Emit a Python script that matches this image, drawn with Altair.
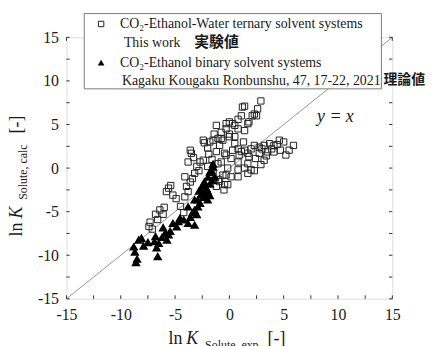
import altair as alt
import pandas as pd

# ---- data ----
sq_x = [-7.4, -7.1, -7.3, -6.8, -6.4, -6.1, -6.6, -6.0,
        -5.6, -5.2, -5.8, -5.4, -4.9, -4.2, -4.5,
        -4.1, -3.95, -4.1, -3.8, -3.6, -3.2, -2.8, -3.4,
        -3.8, -2.7, -3.5, -3.6, -3.3, -3.0,
        -2.4, -1.8, -2.3, -2.0, -1.4, -1.2, -1.05, -0.75, -0.75,
        -0.3, -0.3, 0.0, 0.3, 0.0, 0.5, 0.5, 0.8, 1.4, 0.8, 1.1, 1.4, 1.8, 2.1, 2.3, 2.6, 2.9, 1.7, -0.6, 1.2, 2.5,
        5.9, 5.5, 5.0, 4.6, 4.1, 3.7, 3.2, 2.75, 4.7, 5.2, 4.1, 3.5, 2.75, 2.0, 1.4, 0.8, 0.3, 0.9, 1.8, 2.4,
        3.2, 1.7, 0.8, 0.15, -0.45, -0.75, -0.15, 0.8, 1.4, 2.0, 2.3, -0.6, 0.15, -0.9, -0.15, -0.3, 0.8,
        -1.05, -1.2, -0.3, 1.1, -1.5, 0.0, -2.4, -1.5, -1.0, -2.0, -0.5, -1.2, -1.35, -0.44, 1.7, 2.3, 3.0,
        3.9, 4.4, -1.6, -0.9, 0.5, 1.3, 1.7, 3.4, 2.9, -1.9]
sq_y = [-6.7, -7.0, -6.2, -5.3, -4.8, -5.3, -5.9, -4.5,
        -2.3, -3.1, -2.7, -2.0, -3.5, -5.1, -4.4,
        -1.0, -2.1, -3.3, -2.7, -1.6, -0.6, -0.3, -1.2,
        0.7, 0.7, 1.7, 2.05, 1.2, 0.2,
        3.2, 3.0, 2.9, 2.3, 3.9, 4.9, 3.4, 4.1, 3.4,
        4.5, 5.1, 5.3, 5.1, 3.9, 3.6, 4.9, 4.5, 4.3, 5.6, 6.0, 7.1, 5.3, 6.0, 6.2, 6.8, 7.7, 5.1, 3.2, 7.0, 6.0,
        2.6, 2.05, 3.0, 3.2, 2.6, 2.8, 2.6, 2.4, 2.05, 1.5, 1.85, 1.85, 1.7, 2.2, 2.05, 2.2, 2.05, 1.5, 1.3, 1.1,
        0.9, 0.5, 0.7, 1.1, 1.7, 0.7, 0.0, -0.2, 0.0, -0.2, -0.3, -0.8, -1.0, -1.55, -1.9, -0.8, -1.0,
        0.5, 1.9, 1.5, 1.9, 3.2, 3.6, 0.9, -0.5, -1.3, 0.2, -2.5, -2.1, -1.4, -1.9, 1.7, 2.6, 2.2,
        2.2, 2.7, 1.0, 2.6, 2.8, 3.0, -0.6, 1.4, 0.4, 1.6]

tri_x = [-8.6, -8.5, -8.7, -8.35, -7.9, -8.1, -8.8,
         -6.8, -6.9, -6.7, -6.6, -6.5,
         -6.1, -5.6, -5.75, -5.45, -5.9,
         -4.85, -4.55, -4.7, -3.8, -3.2, -3.6,
         -3.0, -3.2, -3.8, -2.9, -3.2, -2.9, -2.6, -2.3, -2.6, -2.4,
         -2.0, -1.8, -2.1, -2.3, -1.96, -1.66, -1.5, -1.35, -1.5, -1.8, -2.0, -1.8, -2.5, -2.2,
         -7.5, -6.2, -5.2, -4.2, -3.4, -2.7, -2.1, -1.6, -2.8]
tri_y = [-10.8, -10.4, -9.6, -8.2, -8.9, -8.0, -9.0,
         -7.8, -8.4, -9.1, -10.1, -8.6,
         -6.8, -7.6, -8.2, -7.2, -7.4,
         -6.7, -5.7, -6.1, -6.3, -6.5, -5.6,
         -5.3, -4.8, -4.4, -4.4, -3.6, -3.6, -2.5, -1.7, -3.0, -3.3,
         -3.6, -3.1, -2.3, -1.55, -1.0, -0.2, 0.5, -1.0, 0.15, -0.4, -2.6, -1.8, -2.0, -3.0,
         -8.5, -7.9, -6.3, -5.9, -5.1, -4.0, -2.9, -1.4, -2.6]

diag = [-15, 15]
major_ticks = [-15, -10, -5, 0, 5, 10, 15]
all_ticks = [-15, -12.5, -10, -7.5, -5, -2.5, 0, 2.5, 5, 7.5, 10, 12.5, 15]

legend_1 = "CO\u2082-Ethanol-Water ternary solvent systems"
legend_1b = "This work"
legend_1j = "実験値"
legend_2 = "CO\u2082-Ethanol binary solvent systems"
legend_2b = "Kagaku Kougaku Ronbunshu, 47, 17-22, 2021"
legend_2j = "理論値"

SERIF = "Liberation Serif"
CJK = "Noto Sans CJK JP"
INK = "#1a1a1a"

xs = alt.Scale(domain=[-15, 15], nice=False, zero=False)
ys = alt.Scale(domain=[-15, 15], nice=False, zero=False)
LBL = "'' + datum.value"
ax_x = alt.Axis(values=major_ticks, ticks=False, domain=False, grid=False, labelFlush=False,
                labelExpr=LBL, labelFont=SERIF, labelFontSize=16, labelColor=INK,
                labelPadding=8, title="")
ax_y = alt.Axis(values=major_ticks, ticks=False, domain=False, grid=False, labelFlush=False,
                labelExpr=LBL, labelFont=SERIF, labelFontSize=16, labelColor=INK,
                labelPadding=8, title="")

df_sq = pd.DataFrame({"x": sq_x, "y": sq_y})
df_tri = pd.DataFrame({"x": tri_x, "y": tri_y})
df_diag = pd.DataFrame({"x": diag, "y": diag})
df_t = pd.DataFrame({"v": all_ticks})

X = alt.X("x:Q", scale=xs, axis=ax_x, title="")
Y = alt.Y("y:Q", scale=ys, axis=ax_y, title="")

diag_line = alt.Chart(df_diag).mark_line(color="#8a8a8a", strokeWidth=0.9).encode(x=X, y=Y)

squares = alt.Chart(df_sq).mark_point(shape="square", filled=False, size=40, color="#222",
                                      strokeWidth=1, opacity=1).encode(x=X, y=Y)
triangles = alt.Chart(df_tri).mark_point(shape="triangle-up", filled=True, size=90, color="black",
                                         opacity=1).encode(x=X, y=Y)

tk = dict(color="#333", strokeWidth=1)
tick_b = alt.Chart(df_t).mark_rule(**tk).encode(
    x=alt.X("v:Q", scale=xs, axis=ax_x, title=""), y=alt.datum(-15), y2=alt.datum(-14.6))
tick_t = alt.Chart(df_t).mark_rule(**tk).encode(
    x=alt.X("v:Q", scale=xs, axis=ax_x, title=""), y=alt.datum(15), y2=alt.datum(14.6))
tick_l = alt.Chart(df_t).mark_rule(**tk).encode(
    y=alt.Y("v:Q", scale=ys, axis=ax_y, title=""), x=alt.datum(-15), x2=alt.datum(-14.7))
tick_r = alt.Chart(df_t).mark_rule(**tk).encode(
    y=alt.Y("v:Q", scale=ys, axis=ax_y, title=""), x=alt.datum(15), x2=alt.datum(14.7))

one = alt.Data(values=[{"a": 1}])


def txt(s, x, y, size=15, font=SERIF, style="normal", weight="normal", angle=0, baseline="middle"):
    kw = dict(text=s, font=font, fontSize=size, fontStyle=style, fontWeight=weight,
              align="left", baseline=baseline, color=INK)
    if angle:
        kw["angle"] = angle
    return alt.Chart(one).mark_text(**kw).encode(x=alt.value(x), y=alt.value(y))


# legend box (plot origin is at page (67,36))
legend_box = alt.Chart(one).mark_rect(fill="white", stroke="#7a7a7a", strokeWidth=1).encode(
    x=alt.value(18), x2=alt.value(318), y=alt.value(-24), y2=alt.value(52))
leg_sq = alt.Chart(one).mark_point(shape="square", filled=False, size=30, color="#222",
                                   strokeWidth=1, opacity=1).encode(x=alt.value(35), y=alt.value(-13.5))
leg_tri = alt.Chart(one).mark_point(shape="triangle-up", filled=True, size=45, color="black",
                                    opacity=1).encode(x=alt.value(35), y=alt.value(25.5))

texts = [
    txt(legend_1, 54, -13.5, 14),
    txt(legend_1b, 58, 6, 14),
    txt(legend_1j, 129, 5, 15, font=CJK, weight="bold"),
    txt(legend_2, 54, 25.5, 14),
    txt(legend_2b, 56, 44.5, 14),
    txt(legend_2j, 320, 43.5, 14, font=CJK, weight="bold"),
    txt("y = x", 253, 80, 18, style="italic"),
    # x title
    txt("ln", 103, 310, 18, baseline="alphabetic"),
    txt("K", 121, 310, 18, style="italic", baseline="alphabetic"),
    txt("Solute, exp", 140, 315, 12, baseline="alphabetic"),
    txt("[-]", 203, 310, 18, baseline="alphabetic"),
    # y title (rotated)
    txt("ln", -45, 201, 18, angle=270, baseline="alphabetic"),
    txt("K", -45, 183, 18, style="italic", angle=270, baseline="alphabetic"),
    txt("Solute, calc", -40, 164, 12, angle=270, baseline="alphabetic"),
    txt("[-]", -45, 97, 18, angle=270, baseline="alphabetic"),
]

chart = alt.layer(
    diag_line, tick_b, tick_t, tick_l, tick_r, squares, triangles,
    legend_box, leg_sq, leg_tri, *texts
).properties(
    width=329, height=264,
    padding={"left": 59, "top": 28, "right": 34, "bottom": 46},
    autosize=alt.AutoSizeParams(type="none"),
).configure_view(stroke="#222", strokeWidth=1).configure(background="white")

chart.save("out.html", embed_options={"renderer": "svg", "actions": False})
